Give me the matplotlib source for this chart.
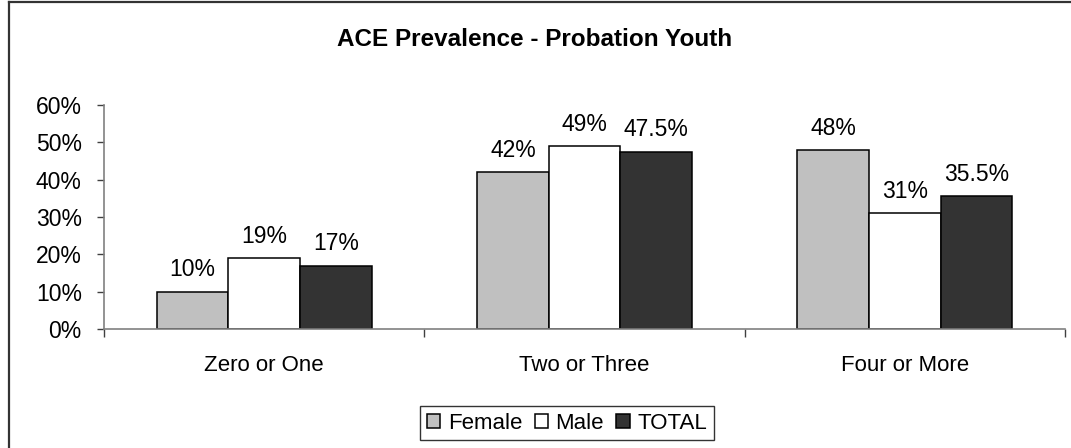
import numpy as np
import matplotlib
matplotlib.use("Agg")
import matplotlib.pyplot as plt
from matplotlib.lines import Line2D

categories = ["Zero or One", "Two or Three", "Four or More"]
series = ["Female", "Male", "TOTAL"]
female = [10, 42, 48]
male = [19, 49, 31]
total = [17, 47.5, 35.5]
labels = [["10%", "42%", "48%"], ["19%", "49%", "31%"], ["17%", "47.5%", "35.5%"]]
colors = ["#C0C0C0", "#FFFFFF", "#333333"]

plt.rcParams["font.family"] = ["Liberation Sans", "DejaVu Sans"]

W, H = 1071, 448
fig = plt.figure(figsize=(W / 100, H / 100), dpi=100)
ax = fig.add_axes([104 / W, 1 - 329 / H, (1065 - 104) / W, (329 - 105) / H])

x = np.arange(len(categories))
w = 0.2234
values = [female, male, total]
for i, (vals, col, name) in enumerate(zip(values, colors, series)):
    bars = ax.bar(x + (i - 1) * w, np.array(vals) / 100, w, color=col,
                  edgecolor="black", linewidth=1.1, label=name)
    for b, txt in zip(bars, labels[i]):
        ax.annotate(txt, (b.get_x() + b.get_width() / 2, b.get_height()),
                    xytext=(0, 11), textcoords="offset points",
                    ha="center", va="baseline", fontsize=16.5)

ax.set_xlim(-0.5, 2.5)
ax.set_ylim(0, 0.6)
ax.set_yticks(np.arange(0, 0.61, 0.1))
ax.set_yticklabels([f"{int(round(v * 100))}%" for v in np.arange(0, 0.61, 0.1)])
ax.tick_params(axis="y", direction="out", length=5, width=1, pad=11,
               labelsize=16.5, colors="#404040", labelcolor="black")

ax.set_xticks([-0.5, 0.5, 1.5, 2.5])
ax.set_xticklabels([])
ax.set_xticks(x, minor=True)
ax.set_xticklabels(categories, minor=True)
ax.tick_params(axis="x", which="major", direction="out", length=6, width=1,
               colors="#404040")
ax.tick_params(axis="x", which="minor", length=0, pad=19, labelsize=16)

for s in ["top", "right"]:
    ax.spines[s].set_visible(False)
for s in ["left", "bottom"]:
    ax.spines[s].set_color("#808080")
    ax.spines[s].set_linewidth(1.2)

fig.text(535 / W, 1 - 40 / H, "ACE Prevalence - Probation Youth",
         ha="center", va="center", fontsize=17.5, fontweight="bold")

leg = fig.legend(loc="center", bbox_to_anchor=(567 / W, 1 - 423 / H),
                 ncol=3, fontsize=16, frameon=True, fancybox=False,
                 handlelength=0.6, handleheight=0.6, handletextpad=0.35,
                 columnspacing=0.55, borderpad=0.3, borderaxespad=0)
leg.get_frame().set_edgecolor("black")
leg.get_frame().set_linewidth(1.0)

# outer chart border (left and top visible)
fig.add_artist(Line2D([8.5 / W, 8.5 / W], [0, 1 - 2.5 / H],
                      transform=fig.transFigure, color="#333333", lw=1.6))
fig.add_artist(Line2D([8.5 / W, 1], [1 - 2.5 / H, 1 - 2.5 / H],
                      transform=fig.transFigure, color="#333333", lw=1.6))

fig.savefig("out.png", dpi=100)
